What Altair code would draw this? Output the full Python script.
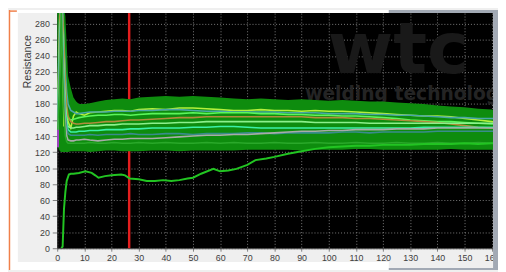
import altair as alt
import pandas as pd

# ---------------- data ----------------
xs = [0, 1, 1.5, 2, 2.5, 3, 3.5, 4, 5, 6, 7, 8, 10, 12, 15, 18, 21, 24, 27, 30,
      35, 40, 45, 50, 55, 60, 65, 70, 75, 80, 85, 90, 95, 100, 105, 110, 115, 120,
      125, 130, 135, 140, 145, 150, 155, 160, 162]

band_hi = [300, 300, 300, 300, 300, 290, 255, 215, 200, 188, 183, 180,
           180, 181, 183, 185, 186, 187, 186, 188,
           189, 190, 189, 190, 189, 188, 187, 186, 187, 186, 185, 186, 185, 184, 185, 184,
           183, 183, 182, 181, 180, 178, 177, 176, 174, 173, 172]
band_lo = [128, 121, 120, 120, 120, 120, 120, 120, 121, 121, 121, 121,
           121, 120, 121, 122, 122, 121, 121, 121,
           122, 122, 121, 122, 122, 122, 122, 123, 123, 123, 123, 122, 123, 123, 123, 124,
           124, 123, 123, 123, 123, 123, 124, 123, 123, 123, 123]

series_names = ["s1", "s2", "s3", "s4", "s5", "s6", "s7", "s8", "s9"]
series_colors = ["#b4f03c", "#4aa6a6", "#5cf55c", "#b08c3c", "#8cf08c",
                 "#3cf0a8", "#3a8c8c", "#a8aca8", "#2aa82a"]

s1 = [140, 300, 300, 240, 152, 160, 168, 158, 150, 165, 170, 168,
      166, 169, 170, 171, 172, 172, 171, 173,
      174, 173, 175, 175, 174, 173, 172, 172, 173, 172, 172, 171, 172, 171, 171, 170,
      169, 168, 167, 166, 165, 165, 164, 162, 160, 158, 157]
s2 = [150, 300, 300, 300, 260, 220, 195, 180, 172, 170, 168, 168,
      169, 170, 170, 170, 171, 171, 171, 172,
      172, 173, 173, 172, 171, 171, 170, 170, 170, 170, 169, 169, 169, 168, 168, 168,
      167, 167, 166, 166, 165, 164, 163, 163, 162, 162, 162]
s3 = [145, 280, 300, 280, 230, 190, 170, 162, 160, 161, 162, 163,
      164, 165, 166, 166, 167, 167, 166, 167,
      168, 168, 168, 169, 168, 169, 169, 169, 168, 168, 167, 167, 166, 166, 165, 165,
      164, 163, 162, 160, 159, 158, 158, 157, 156, 155, 155]
s4 = [140, 290, 300, 290, 250, 205, 178, 165, 158, 156, 155, 155,
      156, 156, 157, 158, 158, 159, 160, 160,
      161, 162, 163, 163, 164, 164, 164, 164, 164, 164, 164, 164, 163, 163, 163, 162,
      162, 161, 160, 159, 158, 157, 155, 153, 151, 150, 150]
s5 = [140, 270, 300, 270, 220, 180, 160, 152, 150, 150, 151, 151,
      152, 153, 153, 154, 154, 155, 155, 155,
      156, 156, 157, 157, 158, 158, 158, 158, 158, 158, 158, 158, 157, 157, 157, 157,
      156, 156, 156, 156, 156, 156, 156, 156, 156, 156, 156]
s6 = [140, 260, 300, 260, 210, 172, 155, 148, 145, 145, 145, 146,
      146, 147, 147, 148, 148, 148, 149, 149,
      150, 150, 150, 151, 151, 152, 152, 151, 150, 150, 150, 150, 150, 150, 150, 150,
      150, 150, 150, 150, 151, 151, 151, 151, 151, 151, 151]
s7 = [135, 250, 300, 250, 200, 165, 150, 143, 141, 141, 141, 141,
      141, 142, 141, 142, 142, 142, 143, 142,
      142, 143, 143, 142, 143, 143, 143, 144, 144, 143, 144, 144, 144, 144, 145, 145,
      144, 145, 145, 145, 145, 146, 146, 146, 146, 146, 146]
s8 = [130, 240, 300, 240, 190, 155, 140, 135, 134, 134, 135, 135,
      136, 135, 134, 135, 136, 136, 137, 137,
      137, 138, 139, 140, 141, 141, 142, 142, 143, 144, 145, 146, 146, 147, 147, 148,
      148, 148, 149, 149, 149, 150, 150, 150, 150, 150, 150]
s9 = [130, 220, 300, 220, 170, 140, 133, 131, 131, 131, 131, 131,
      131, 132, 131, 131, 132, 131, 131, 132,
      131, 132, 131, 131, 132, 131, 132, 131, 131, 132, 131, 131, 132, 131, 131, 132,
      131, 131, 132, 131, 131, 132, 131, 131, 132, 131, 131]

low_x = [1.5, 2, 2.5, 3, 3.5, 4.3, 5, 6, 8, 10.4, 12.7, 14, 15.2, 17.6, 20, 23.6, 25,
         26.7, 30, 33, 36, 39, 42, 45, 48, 50, 53, 57.5, 60, 63, 66, 70, 73, 77, 80, 85,
         90, 95, 100, 105, 110, 115, 120, 125, 130, 135, 140, 145, 150, 155, 160, 162]
low_y = [0, 2, 49, 70, 84, 92, 93, 93, 94, 96, 94, 91, 88, 90, 91, 92, 91,
         87, 86, 84, 84, 85, 84, 85, 87, 88, 93, 99, 96, 97, 99, 104, 110, 112, 114, 118,
         121, 124, 126, 127, 128, 128, 129, 129, 129, 130, 130, 130, 131, 130, 131, 131]

red_x = [26.5]
purple_x = [0.3]
purple_lo = [126]
purple_hi = [148]

x_ticks = list(range(0, 161, 10))
y_ticks = list(range(0, 281, 20))
watermark_big = ["wtc"]
watermark_small = ["welding technology"]

# ---------------- tables ----------------
band_df = pd.DataFrame({"x": xs, "hi": band_hi, "lo": band_lo})
all_series = [s1, s2, s3, s4, s5, s6, s7, s8, s9]
rows = []
for name, vals in zip(series_names, all_series):
    for xv, yv in zip(xs, vals):
        rows.append({"x": xv, "y": yv, "s": name})
lines_df = pd.DataFrame(rows)
low_df = pd.DataFrame({"x": low_x, "y": low_y})

# ---------------- scales / axes ----------------
W, H = 443, 239
xscale = alt.Scale(domain=[0, 160.5], nice=False, zero=False)
yscale = alt.Scale(domain=[0, 293.5], nice=False)

FONT = "Liberation Sans"
xaxis = alt.Axis(values=x_ticks, title=None, grid=True, gridColor="#7c7c7c",
                 gridDash=[1, 2], gridWidth=1, labelFont=FONT, labelFontSize=9,
                 labelColor="#404040", labelFlush=False, labelOverlap=False,
                 labelPadding=2, tickSize=3, tickColor="#808080",
                 domainColor="#303030", format="d")
yaxis = alt.Axis(values=y_ticks, title="Resistance", grid=True, gridColor="#7c7c7c",
                 gridDash=[1, 2], gridWidth=1, labelFont=FONT, labelFontSize=9,
                 labelColor="#404040", labelFlush=False, labelOverlap=False,
                 labelPadding=3, tickSize=5, tickColor="#808080",
                 domainColor="#303030", titleFont=FONT, titleFontSize=11,
                 titleFontWeight="normal", titleColor="#404040", titleX=-30,
                 titleY=49, titleAngle=270, titleAlign="center",
                 titleBaseline="middle", format="d")

X = lambda f: alt.X(f, scale=xscale, axis=xaxis)
Y = lambda f: alt.Y(f, scale=yscale, axis=yaxis)

one = pd.DataFrame({"a": [0]})

wm1 = alt.Chart(pd.DataFrame({"t": watermark_big})).mark_text(
    font="DejaVu Sans", fontSize=72, fontWeight="bold", color="#191919",
    align="left", baseline="alphabetic").encode(
    x=alt.value(275), y=alt.value(61), text="t:N")
wm2 = alt.Chart(pd.DataFrame({"t": watermark_small})).mark_text(
    font="DejaVu Sans", fontSize=19, fontWeight="bold", color="#242424",
    align="left", baseline="alphabetic").encode(
    x=alt.value(252), y=alt.value(88), text="t:N")

red = alt.Chart(pd.DataFrame({"x": red_x})).mark_rule(
    color="#e41e1e", strokeWidth=2.5).encode(x=X("x:Q"))

band = alt.Chart(band_df).mark_area(color="#0e8c0e", clip=True, opacity=1).encode(
    x=X("x:Q"), y=Y("hi:Q"), y2="lo:Q")

lines = alt.Chart(lines_df).mark_line(clip=True, strokeWidth=1.6).encode(
    x=X("x:Q"), y=Y("y:Q"),
    color=alt.Color("s:N", scale=alt.Scale(domain=series_names, range=series_colors),
                    legend=None))

low = alt.Chart(low_df).mark_line(clip=True, strokeWidth=2, color="#22c422").encode(
    x=X("x:Q"), y=Y("y:Q"))

purple = alt.Chart(pd.DataFrame({"x": purple_x, "lo": purple_lo, "hi": purple_hi})).mark_rule(
    color="#a040c0", strokeWidth=2).encode(x=X("x:Q"), y=Y("lo:Q"), y2="hi:Q")

# frame decorations (pixel positions relative to plot origin)
def rect(color, x1, x2, y1, y2):
    return alt.Chart(one).mark_rect(color=color).encode(
        x=alt.value(x1), x2=alt.value(x2), y=alt.value(y1), y2=alt.value(y2))

white_left = rect("white", -50, -40, -3, 261)
white_top = rect("white", -50, 337, -3, 0)
white_bot = rect("white", -50, 337, 253, 261)
blue_top = rect("#a2a9b4", 337, 448, -3, 0)
blue_right = rect("#a2a9b4", 443, 448, -3, 261)
blue_bot = rect("#a2a9b4", 337, 448, 259, 261)

orange_v = alt.Chart(one).mark_rule(color="#f0804a", strokeWidth=1.5).encode(
    x=alt.value(-48.5), y=alt.value(-3), y2=alt.value(261))
orange_h = alt.Chart(one).mark_rule(color="#f0804a", strokeWidth=1.5).encode(
    x=alt.value(-48.5), x2=alt.value(-41), y=alt.value(-2))

chart = alt.layer(
    wm1, wm2, red, band, lines, low, purple,
    white_left, white_top, white_bot, blue_top, blue_right, blue_bot,
    orange_v, orange_h
).properties(
    width=W, height=H, autosize="none",
    padding={"left": 50, "top": 3, "right": 5, "bottom": 22},
    background="#efefef"
).configure_view(fill="black", stroke=None)

chart.save("out.html", embed_options={"renderer": "svg", "actions": False})
